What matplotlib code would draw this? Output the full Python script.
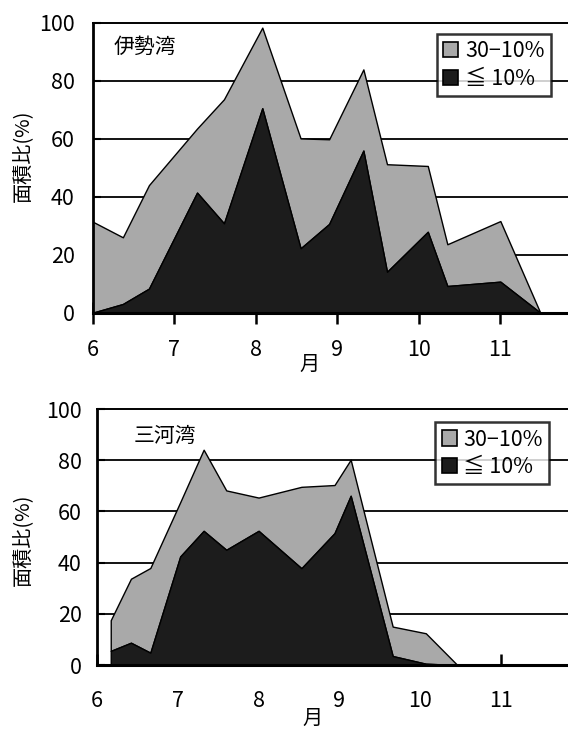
import numpy as np
import matplotlib
matplotlib.use("Agg")
import matplotlib.pyplot as plt
from matplotlib.patches import Patch

plt.rcParams['font.family'] = ['Noto Sans CJK JP', 'DejaVu Sans']

# ---- data ----
months = [6, 7, 8, 9, 10, 11]
yticks = [0, 20, 40, 60, 80, 100]
series_names = ["30−10%", "≦ 10%"]

# 伊勢湾 (Ise Bay)
ise_x = [6.00, 6.37, 6.69, 7.28, 7.61, 8.08, 8.55, 8.90, 9.32, 9.61, 10.11, 10.35, 11.00, 11.49]
ise_le10 = [0, 3.0, 8.3, 41.4, 30.8, 70.5, 22.2, 30.6, 55.9, 14.1, 27.9, 9.2, 10.7, 0]
ise_30_10 = [31.4, 23.0, 35.7, 22.1, 42.8, 27.8, 37.9, 29.2, 28.0, 37.1, 22.7, 14.4, 20.9, 0]

# 三河湾 (Mikawa Bay)
mik_x = [6.17, 6.42, 6.66, 7.03, 7.32, 7.60, 8.00, 8.53, 8.94, 9.14, 9.66, 10.07, 10.46]
mik_le10 = [5.5, 8.7, 4.8, 42.4, 52.4, 45.0, 52.4, 37.8, 51.5, 66.1, 3.5, 0.5, 0]
mik_30_10 = [12.0, 25.0, 33.1, 21.2, 31.7, 23.2, 13.0, 31.8, 18.8, 14.1, 11.5, 11.9, 0]

GRAY = '#a9a9a9'
DARK = '#1c1c1c'
FS = 15.5

W, H = 568, 729
fig = plt.figure(figsize=(W / 100, H / 100), dpi=100)


def px(x0, y_top, x1, y_bot):
    return [x0 / W, 1 - y_bot / H, (x1 - x0) / W, (y_bot - y_top) / H]


def draw(ax, x, le10, r3010, xpad, ypad, xtickdir, xticklen, legend_anchor):
    x = np.array(x)
    b = np.array(le10)
    t = b + np.array(r3010)
    for g in [20, 40, 60, 80]:
        ax.axhline(g, color='black', lw=1.3, zorder=1)
    ax.fill_between(x, b, t, facecolor=GRAY, edgecolor='black', lw=1.0, zorder=2)
    ax.fill_between(x, 0, b, facecolor=DARK, edgecolor='black', lw=1.0, zorder=3)
    ax.set_xlim(6, 11.83)
    ax.set_ylim(0, 100)
    ax.set_xticks(months)
    ax.set_yticks(yticks)
    ax.tick_params(axis='y', direction='in', length=6, width=1.5, pad=ypad, labelsize=FS)
    ax.tick_params(axis='x', direction=xtickdir, length=xticklen, width=1.8, pad=xpad, labelsize=FS)
    ax.spines['right'].set_visible(False)
    ax.spines['top'].set_linewidth(1.4)
    ax.spines['left'].set_linewidth(2.0)
    ax.spines['bottom'].set_linewidth(2.2)
    for s in ax.spines.values():
        s.set_zorder(5)
    handles = [Patch(facecolor=GRAY, edgecolor='black', lw=1.2),
               Patch(facecolor=DARK, edgecolor='black', lw=1.2)]
    leg = ax.legend(handles, series_names, loc='upper right', bbox_to_anchor=legend_anchor,
                    fontsize=FS, frameon=True, fancybox=False, handlelength=0.7,
                    handleheight=0.7, handletextpad=0.3, labelspacing=0.25,
                    borderpad=0.3, borderaxespad=0)
    leg.get_frame().set_edgecolor('black')
    leg.get_frame().set_linewidth(1.8)
    leg.set_zorder(6)


ax1 = fig.add_axes(px(92.7, 22.7, W, 312.7))
draw(ax1, ise_x, ise_le10, ise_30_10, 11, 13, 'inout', 16, (0.964, 0.961))
ax2 = fig.add_axes(px(97.0, 409.0, W, 665.0))
draw(ax2, mik_x, mik_le10, mik_30_10, 18, 11, 'in', 8, (0.960, 0.949))

fig.text(145 / W, 1 - 47 / H, "伊勢湾", ha='center', va='center', fontsize=15)
fig.text(165 / W, 1 - 436 / H, "三河湾", ha='center', va='center', fontsize=15)
fig.text(23 / W, 1 - 156 / H, "面積比(%)", rotation=90, ha='center', va='center', fontsize=14.5)
fig.text(23 / W, 1 - 540 / H, "面積比(%)", rotation=90, ha='center', va='center', fontsize=14.5)
fig.text(310 / W, 1 - 364 / H, "月", ha='center', va='center', fontsize=14.5)
fig.text(313 / W, 1 - 718 / H, "月", ha='center', va='center', fontsize=14.5)

fig.savefig("out.png", dpi=100)
